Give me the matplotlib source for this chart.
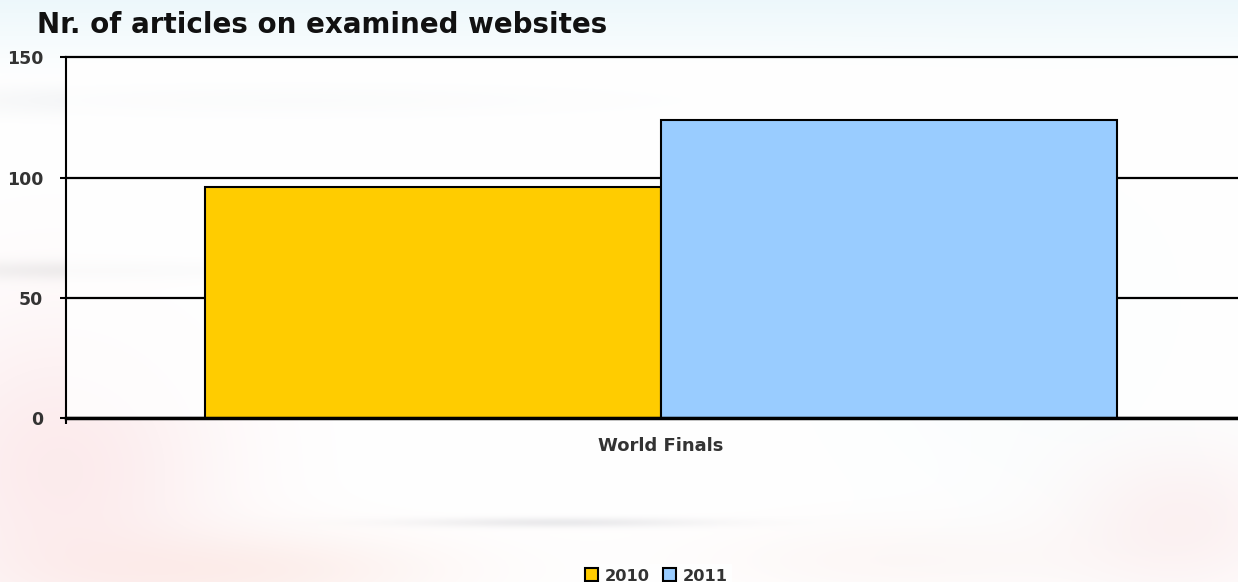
import numpy as np
import matplotlib
matplotlib.use("Agg")
import matplotlib.pyplot as plt
from matplotlib.patches import Patch

# Data
categories = ["World Finals"]
series_names = ["2010", "2011"]
values_2010 = [96]
values_2011 = [124]
series_colors = ["#FFCC00", "#99CCFF"]
y_ticks = [0, 50, 100, 150]

W, H = 1238, 582
fig = plt.figure(figsize=(W / 100, H / 100), dpi=100)

# Soft washed-out backdrop
yy, xx = np.mgrid[0:H, 0:W].astype(float)
bg = np.ones((H, W, 3))

def blend(mask, rgb, strength):
    global bg
    m = (mask * strength)[..., None]
    bg = bg * (1 - m) + np.array(rgb)[None, None, :] * m

def blob(cx, cy, sx, sy):
    return np.exp(-(((xx - cx) / sx) ** 2 + ((yy - cy) / sy) ** 2))

blend(np.clip(1 - yy / 80, 0, 1), (0.90, 0.96, 0.98), 0.7)
blend(blob(300, 100, 320, 16), (0.84, 0.86, 0.88), 0.4)
blend(blob(120, 270, 200, 10), (0.82, 0.83, 0.83), 0.4)
blend(blob(560, 522, 150, 5), (0.80, 0.80, 0.82), 0.4)
blend(blob(60, 470, 160, 160), (0.96, 0.74, 0.76), 0.3)
blend(blob(250, 570, 200, 40), (0.97, 0.80, 0.76), 0.3)
blend(blob(1180, 520, 120, 80), (0.96, 0.78, 0.79), 0.25)
blend(blob(900, 560, 200, 40), (0.97, 0.86, 0.84), 0.2)
blend(blob(1050, 300, 200, 200), (0.92, 0.97, 0.98), 0.3)

bg_ax = fig.add_axes([0, 0, 1, 1], zorder=-10)
bg_ax.imshow(bg, aspect="auto", extent=(0, W, H, 0))
bg_ax.axis("off")

left_px, top_px, bottom_px = 66, 57.3, 418
ax = fig.add_axes([left_px / W, 1 - bottom_px / H, (W - left_px) / W,
                   (bottom_px - top_px) / H])
ax.set_facecolor((1, 1, 1, 0.8))

x = np.arange(len(categories))
bw = 0.383
ax.bar(x - bw / 2, values_2010, width=bw, color=series_colors[0],
       edgecolor="black", linewidth=1.5, zorder=3)
ax.bar(x + bw / 2, values_2011, width=bw, color=series_colors[1],
       edgecolor="black", linewidth=1.5, zorder=3)

ax.set_xlim(-0.5, 0.4849)
ax.set_ylim(0, 150)
ax.set_yticks(y_ticks)
ax.yaxis.grid(True, color="black", linewidth=1.6)
ax.set_axisbelow(True)
for gl in ax.get_ygridlines():
    gl.set_clip_on(False)

for side in ("top", "right"):
    ax.spines[side].set_visible(False)
ax.spines["left"].set_linewidth(1.5)
ax.spines["bottom"].set_linewidth(2.5)
ax.spines["bottom"].set_zorder(4)

tick_font = dict(family="DejaVu Sans", weight="bold", size=12.5)
ax.set_yticklabels([str(v) for v in y_ticks], color="#333333", **tick_font)
ax.tick_params(axis="y", length=4.3, width=1.5, pad=12)

ax.set_xticks(x)
ax.set_xticklabels(categories, color="#333333", family="DejaVu Sans",
                   weight="bold", size=13)
ax.tick_params(axis="x", which="major", length=0, pad=14)
ax.set_xticks([-0.5], minor=True)
ax.tick_params(axis="x", which="minor", length=4.3, width=1.5)

fig.text(37 / W, 1 - 33 / H, "Nr. of articles on examined websites",
         family="DejaVu Sans", weight="bold", size=20, va="baseline",
         ha="left", color="#111111")

handles = [Patch(facecolor=c, edgecolor="black", linewidth=1.5)
           for c in series_colors]
leg = fig.legend(handles, series_names, loc="center",
                 bbox_to_anchor=(656 / W, 1 - 576 / H), ncol=2,
                 frameon=True, fancybox=False, borderpad=0.3,
                 handlelength=0.86, handleheight=0.86, handletextpad=0.37,
                 columnspacing=0.8,
                 prop=dict(family="DejaVu Sans", weight="bold", size=11.7))
leg.get_frame().set_facecolor("white")
leg.get_frame().set_edgecolor("none")
for t in leg.get_texts():
    t.set_color("#333333")

fig.savefig("out.png", dpi=100)
